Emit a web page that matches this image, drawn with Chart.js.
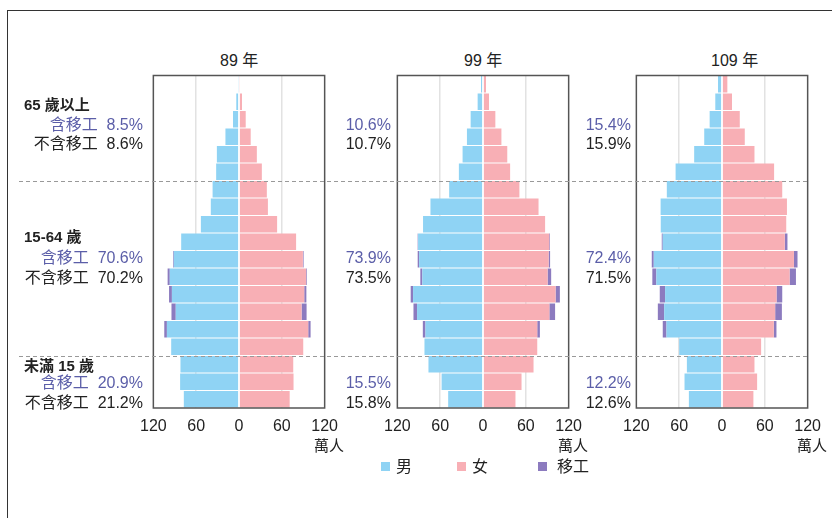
<!DOCTYPE html>
<html lang="zh-Hant">
<head>
<meta charset="utf-8">
<script src="https://cdn.jsdelivr.net/npm/chart.js@4.4.1/dist/chart.umd.min.js"></script>
<style>
  body { margin: 0; width: 832px; height: 518px; position: relative; overflow: hidden; background: #fff;
         font-family: "Liberation Sans", "Noto Sans CJK TC", sans-serif; color: #222; }
  .frame { position: absolute; left: 7px; top: 10px; width: 900px; height: 600px;
           border-left: 1.5px solid #333; border-top: 1.5px solid #333; }
  .panel { position: absolute; top: 70px; }
  .t { position: absolute; white-space: nowrap; font-size: 16px; line-height: 20px; transform: translateY(-50%); }
  .b { font-weight: bold; font-size: 15px; }
  .mig { color: #5b5ea8; }
  .sw { position: absolute; width: 9px; height: 9px; top: 462px; }
  #over { position: absolute; left: 0; top: 0; pointer-events: none; }
</style>
</head>
<body>
<div class="frame"></div>

<div class="t" style="left:220px;top:61px">89 年</div>
<div class="t" style="left:464px;top:61px">99 年</div>
<div class="t" style="left:711px;top:61px">109 年</div>

<canvas id="p89"  class="panel" style="left:130.7px" width="216" height="373"></canvas>
<canvas id="p99"  class="panel" style="left:374.7px" width="216" height="373"></canvas>
<canvas id="p109" class="panel" style="left:613.7px" width="216" height="373"></canvas>
<canvas id="over" width="832" height="518"></canvas>

<div class="t" style="left:314px;top:446px;font-size:15px">萬人</div>
<div class="t" style="left:558px;top:446px;font-size:15px">萬人</div>
<div class="t" style="left:797px;top:446px;font-size:15px">萬人</div>

<div class="sw" style="left:381px;background:#8fd3f4"></div>
<div class="t" style="left:396px;top:467px">男</div>
<div class="sw" style="left:457px;background:#f8afb5"></div>
<div class="t" style="left:472px;top:467px">女</div>
<div class="sw" style="left:538px;background:#8c7bbf"></div>
<div class="t" style="left:557px;top:467px">移工</div>

<div id="notes"></div>

<script>
// 年齡組（由上而下）
const ageGroups = ['90+', '85-89', '80-84', '75-79', '70-74', '65-69', '60-64', '55-59', '50-54', '45-49',
                   '40-44', '35-39', '30-34', '25-29', '20-24', '15-19', '10-14', '5-9', '0-4'];

// 單位：萬人
const male89    = [0.5, 3.8, 8.4, 19, 31, 32, 37, 39.5, 53.4, 81, 91.4, 97, 94, 88.6, 101, 95, 82, 82.5, 77.3];
const female89  = [0.5, 4.2, 9.4, 16.4, 25, 32, 39, 40.5, 53.4, 80, 89.5, 94, 91.4, 87.7, 97, 90, 76, 76.4, 71];
const migM89    = [0, 0, 0, 0, 0, 0, 0, 0, 0, 0, 1, 3, 4, 6, 3.7, 0, 0, 0, 0];
const migF89    = [0, 0, 0, 0, 0, 0, 0, 0, 0, 0, 1, 1, 3, 7, 3.3, 0, 0, 0, 0];

const male99    = [2.8, 7.5, 17.3, 22.5, 28.6, 33.8, 47.4, 73.6, 84, 91, 89.5, 85, 98, 92.4, 80.6, 82, 76.4, 58, 48.8];
const female99  = [4.2, 8.4, 17.3, 25.8, 34, 38, 51, 77.8, 87, 92.8, 92, 90.5, 101.7, 93, 76, 76, 70.8, 54, 45.5];
const migM99    = [0, 0, 0, 0, 0, 0, 0, 0, 0, 0.5, 2, 2.8, 3.3, 5, 3.7, 0, 0, 0, 0];
const migF99    = [0, 0, 0, 0, 0, 0, 0, 0, 0, 1, 2, 5, 6, 8, 3.7, 0, 0, 0, 0];

const male109   = [5.6, 9.4, 17.3, 24.9, 39, 65, 77.3, 86, 85.8, 83, 95.6, 92, 79.7, 81, 77.8, 60, 49.2, 52.5, 46.4];
const female109 = [7.5, 14, 24.9, 31.9, 45.5, 73, 84.4, 91, 90, 88, 100.8, 94.7, 76.4, 74.5, 72.6, 54.8, 45.5, 49.2, 44];
const migM109   = [0, 0, 0, 0, 0, 0, 0, 0, 0, 1.4, 2.8, 5.6, 7.5, 8.9, 5.2, 0, 0, 0, 0];
const migF109   = [0, 0, 0, 0, 0, 0, 0, 0, 0, 3.7, 5, 8.9, 8, 9.4, 3.7, 0, 0, 0, 0];

// 三段年齡結構（%）：65 歲以上、15-64 歲、未滿 15 歲
const groupNames = ['65 歲以上', '15-64 歲', '未滿 15 歲'];
const withMig89  = [8.5, 70.6, 20.9],  noMig89  = [8.6, 70.2, 21.2];
const withMig99  = [10.6, 73.9, 15.5], noMig99  = [10.7, 73.5, 15.8];
const withMig109 = [15.4, 72.4, 12.2], noMig109 = [15.9, 71.5, 12.6];

const xTicks = [-120, -60, 0, 60, 120];

const cores = {
  male:   '#8fd3f4',
  female: '#f8afb5',
  mig:    '#8c7bbf',
  grade:  '#e2e2e2',
  caixa:  '#555',
};

const caixa = {
  id: 'caixa',
  afterDatasetsDraw(chart) {
    const { ctx, chartArea: a, scales: { x } } = chart;
    const x0 = x.getPixelForValue(0);
    ctx.save();
    ctx.strokeStyle = '#fff';
    ctx.lineWidth = 1.2;
    ctx.beginPath();
    ctx.moveTo(x0, a.top);
    ctx.lineTo(x0, a.bottom);
    ctx.stroke();
    ctx.strokeStyle = cores.caixa;
    ctx.lineWidth = 1.5;
    ctx.strokeRect(a.left, a.top, a.right - a.left, a.bottom - a.top);
    ctx.restore();
  },
};

function renderPiramide(id, male, female, migM, migF) {
  return new Chart(document.getElementById(id), {
    type: 'bar',
    data: {
      labels: ageGroups,
      datasets: [
        { label: '男',   data: male.map(v => -v), backgroundColor: cores.male },
        { label: '移工', data: migM.map(v => -v), backgroundColor: cores.mig },
        { label: '女',   data: female,            backgroundColor: cores.female },
        { label: '移工', data: migF,              backgroundColor: cores.mig },
      ],
    },
    options: {
      indexAxis: 'y',
      responsive: false,
      animation: false,
      layout: { padding: { left: 20, right: 20, top: 5.5, bottom: 0 } },
      datasets: { bar: { categoryPercentage: 0.93, barPercentage: 1, borderWidth: 0 } },
      plugins: { legend: { display: false }, tooltip: { enabled: false } },
      scales: {
        x: {
          stacked: true,
          min: xTicks[0],
          max: xTicks[xTicks.length - 1],
          afterBuildTicks: (s) => { s.ticks = xTicks.map(v => ({ value: v })); },
          afterFit: (s) => { s.height = 35; },
          ticks: {
            callback: (v) => Math.abs(v),
            color: '#222',
            font: { family: '"Liberation Sans", sans-serif', size: 16 },
            padding: 9,
            maxRotation: 0,
            autoSkip: false,
          },
          grid: {
            color: (c) => Math.abs(c.tick.value) === 60 ? cores.grade : 'transparent',
            lineWidth: 1.5,
            drawTicks: false,
          },
          border: { display: false },
        },
        y: { stacked: true, display: false },
      },
    },
    plugins: [caixa],
  });
}

function nota(texto, x, y, cls, alinhar) {
  const d = document.createElement('div');
  d.className = 't ' + (cls || '');
  d.innerHTML = texto;
  d.style.top = y + 'px';
  if (alinhar === 'right') d.style.right = (832 - x) + 'px';
  else d.style.left = x + 'px';
  document.getElementById('notes').appendChild(d);
}

function preencherNotas() {
  const pct = (v) => v.toFixed(1) + '%';
  const yNome = [105, 237, 366];
  const yCom  = [124.5, 257.5, 383];
  const ySem  = [143.5, 277.5, 402.5];
  groupNames.forEach((nome, i) => {
    nota(nome, 24, yNome[i], 'b');
    nota('含移工&nbsp;&nbsp;' + pct(withMig89[i]), 143, yCom[i], 'mig', 'right');
    nota('不含移工&nbsp;&nbsp;' + pct(noMig89[i]), 143, ySem[i], '', 'right');
    nota(pct(withMig99[i]), 391, yCom[i], 'mig', 'right');
    nota(pct(noMig99[i]), 391, ySem[i], '', 'right');
    nota(pct(withMig109[i]), 631, yCom[i], 'mig', 'right');
    nota(pct(noMig109[i]), 631, ySem[i], '', 'right');
  });
}

function linhasTracejadas(chart, topo) {
  const y = chart.scales.y;
  const ctx = document.getElementById('over').getContext('2d');
  ctx.strokeStyle = '#999';
  ctx.lineWidth = 1;
  ctx.setLineDash([4, 3]);
  // limites 65+/15-64 e 15-64/<15
  [[5, 6], [15, 16]].forEach(([a, b]) => {
    const py = Math.round(topo + (y.getPixelForValue(a) + y.getPixelForValue(b)) / 2) + 0.5;
    ctx.beginPath();
    ctx.moveTo(19, py);
    ctx.lineTo(809, py);
    ctx.stroke();
  });
}

document.addEventListener('DOMContentLoaded', () => {
  const c89 = renderPiramide('p89', male89, female89, migM89, migF89);
  renderPiramide('p99', male99, female99, migM99, migF99);
  renderPiramide('p109', male109, female109, migM109, migF109);
  linhasTracejadas(c89, 70);
  preencherNotas();
});
</script>
</body>
</html>
